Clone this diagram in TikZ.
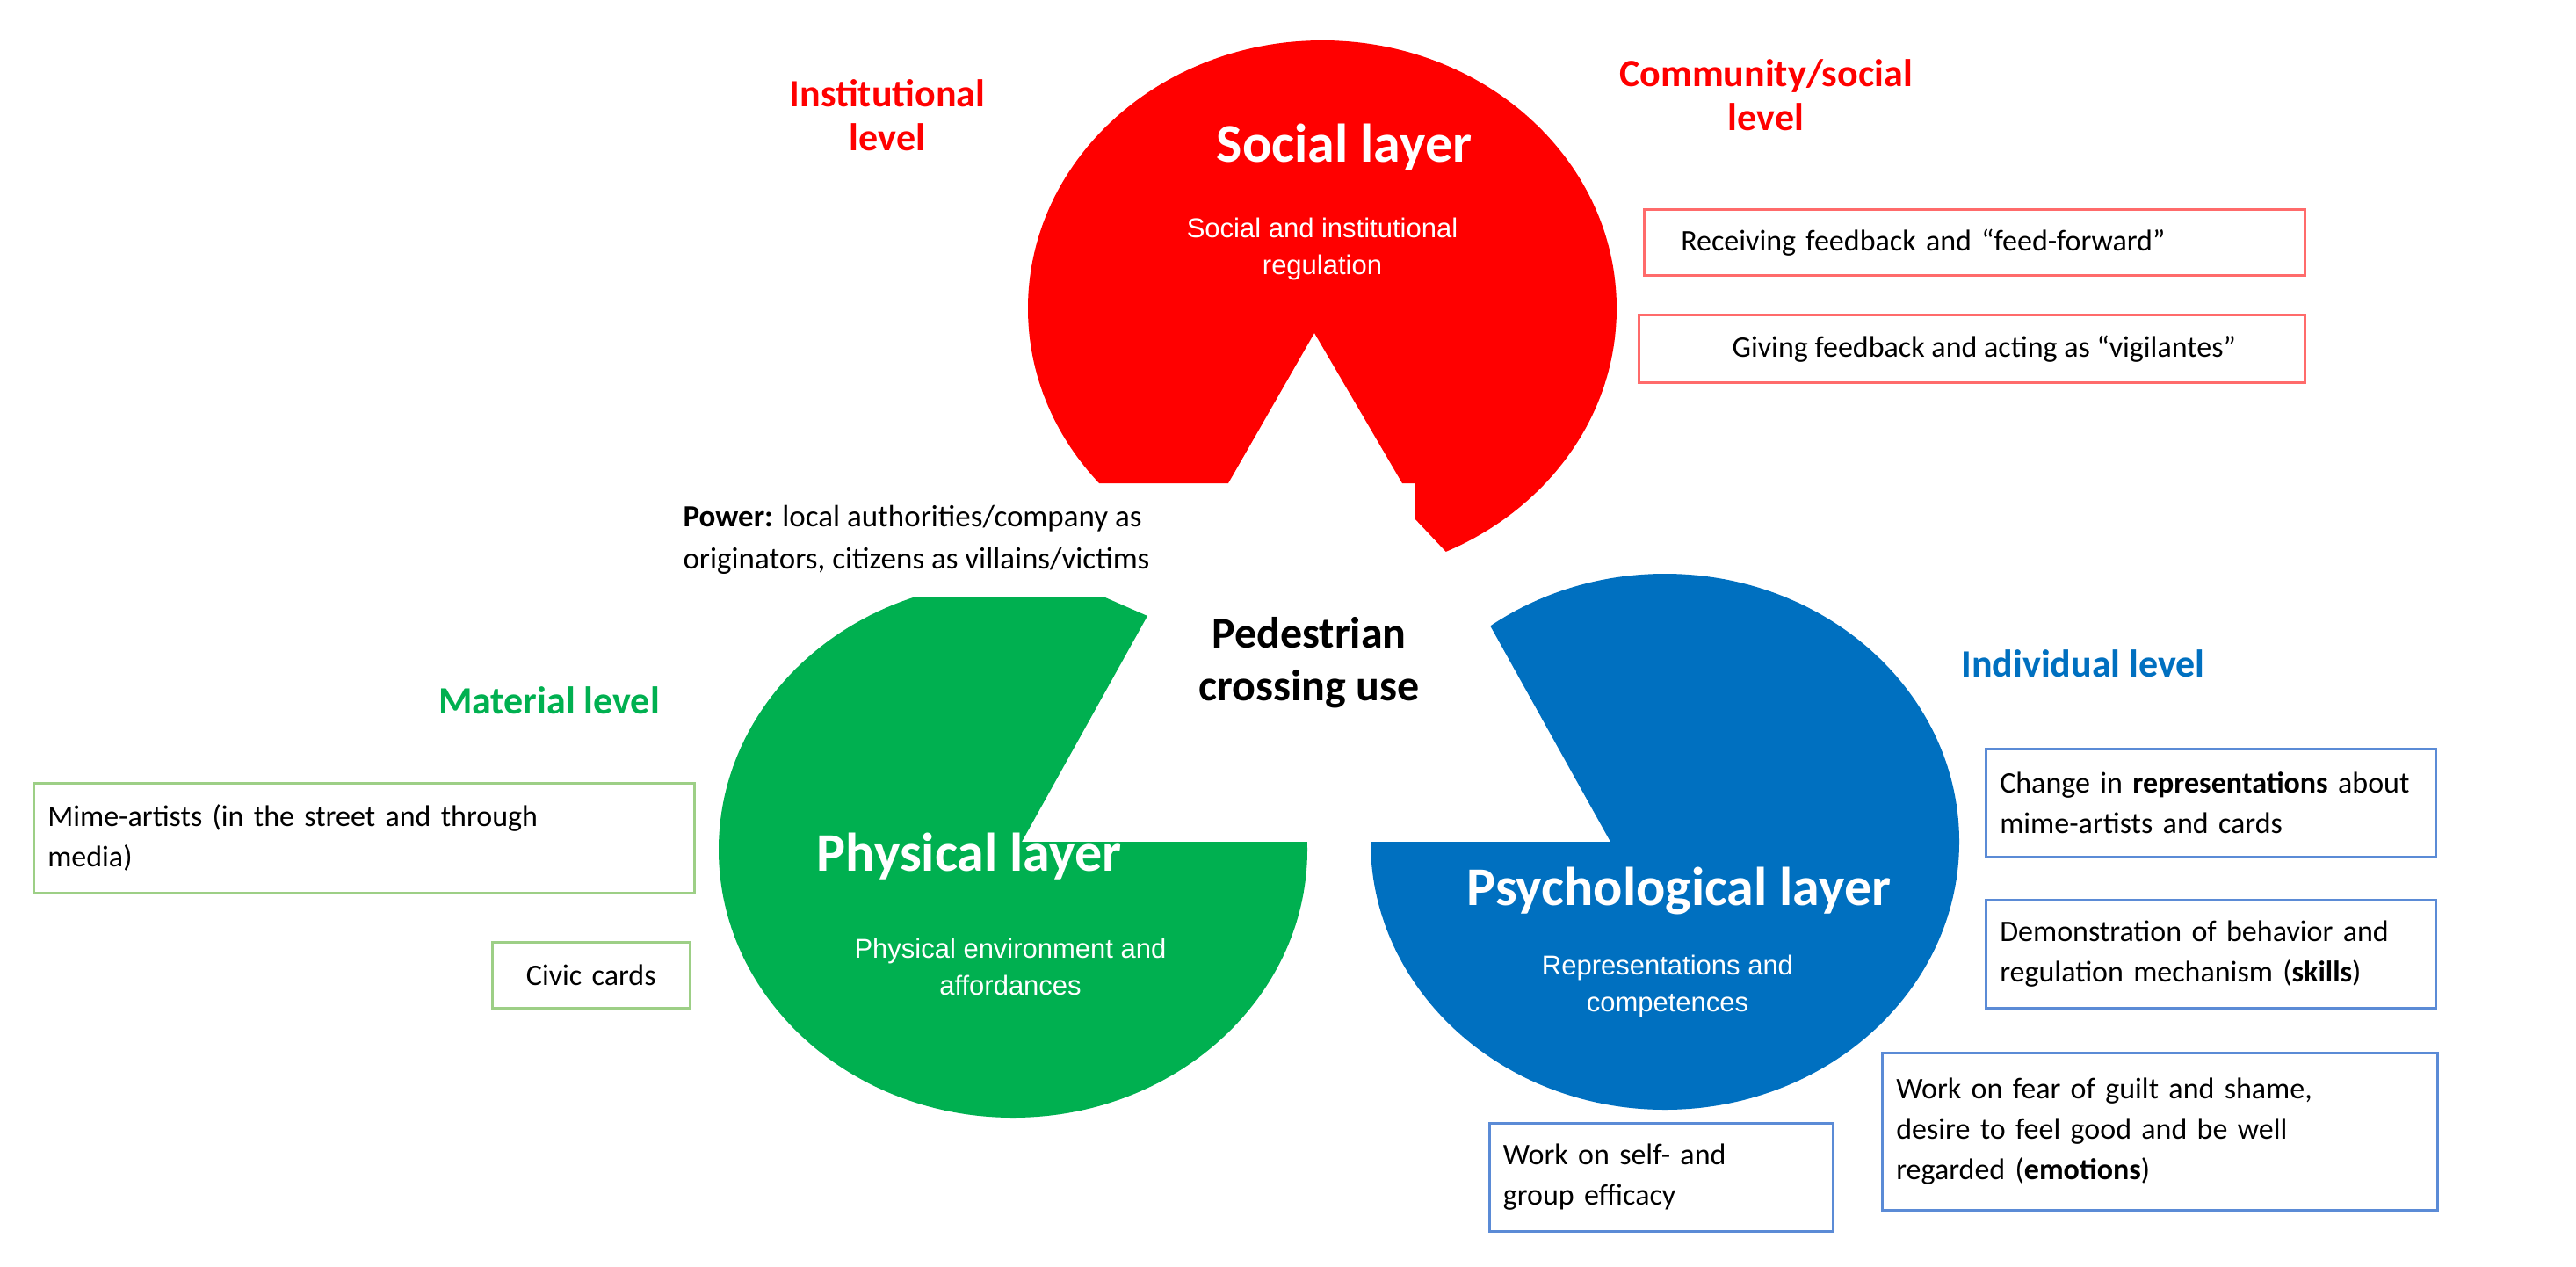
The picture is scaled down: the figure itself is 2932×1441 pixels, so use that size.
\documentclass[tikz,border=0pt]{standalone}
\usepackage{fontspec}
\setmainfont{Carlito}
\newfontfamily\arialf{Liberation Sans}
\begin{document}
\begin{tikzpicture}[x=1pt,y=-1pt,
  lvl/.style={font=\fontsize{44}{50}\selectfont\bfseries, align=center},
  title/.style={font=\fontsize{62}{70}\selectfont\bfseries, text=white, align=center},
  sub/.style={font=\arialf\fontsize{31}{42}\selectfont, text=white, align=center},
  bx/.style={draw, line width=2.5pt, anchor=north west, align=left, inner sep=0pt,
     font=\fontsize{34}{46}\selectfont, text=black},
]
\definecolor{cred}{HTML}{FF0000}
\definecolor{cgreen}{HTML}{00B050}
\definecolor{cblue}{HTML}{0070C0}
\definecolor{bred}{HTML}{FF6B6B}
\definecolor{bgreen}{HTML}{9DCF86}
\definecolor{bblue}{HTML}{5B8BD6}
\fill[white] (0,0) rectangle (2932,1441);
\useasboundingbox (0,0) rectangle (2932,1441);

% red shape
\begin{scope}
\clip (1000,0) -- (2000,0) -- (2000,900) -- (1902,900) -- (1610,590) -- (1610,550) -- (1596,550) -- (1496,379) -- (1398,550) -- (1000,550) -- cycle;
\fill[cred] (1505,351) ellipse [x radius=335, y radius=305];
\end{scope}
% green shape
\begin{scope}
\clip (700,680) -- (1258,680) -- (1306,701) -- (1163,958) -- (1600,958) -- (1600,1400) -- (700,1400) -- cycle;
\fill[cgreen] (1153,967) ellipse [x radius=335, y radius=305];
\end{scope}
% blue shape
\begin{scope}
\clip (1578,500) -- (2400,500) -- (2400,1400) -- (1500,1400) -- (1500,958) -- (1833,958) -- cycle;
\fill[cblue] (1895,958) ellipse [x radius=335, y radius=305];
\end{scope}

\node[lvl, text=cred] (inst) at (1010,131) {Institutional\\level};
\node[lvl, text=cred] (comm) at (2010,108) {Community/social\\level};
\node[lvl, text=cgreen] (mat) at (625,797) {Material level};
\node[lvl, text=cblue] (ind) at (2371,755) {Individual level};

\node[title] (soc) at (1530,168) {Social layer};
\node[sub] (socs) at (1505,283) {Social and institutional\\regulation};
\node[title] (phy) at (1103,975) {Physical layer};
\node[sub] (phys) at (1150,1100) {Physical environment and\\affordances};
\node[title] (psy) at (1911,1014) {Psychological layer};
\node[sub] (psys) at (1898,1122) {Representations and\\competences};

\node[font=\fontsize{50}{60}\selectfont\bfseries, align=center] (ped) at (1490,754) {Pedestrian\\crossing use};
\node[font=\fontsize{35}{48}\selectfont, align=left, anchor=north west] (pow) at (774,572) {\textbf{Power:} local authorities/company as\\originators, citizens as villains/victims};

\node[bx, draw=bred, minimum width=752, minimum height=75, text width=724, xshift=0pt] (r1) at (1870,237) {\hspace*{28pt}Receiving feedback and “feed-forward”};
\node[bx, draw=bred, minimum width=758, minimum height=77] (r2) at (1864,357) {\hspace*{28pt}Giving feedback and acting as “vigilantes”};

\node[bx, draw=bgreen, minimum width=752, minimum height=125, text width=720] (g1) at (37,890) {\hspace*{0pt}Mime-artists (in the street and through\\media)};
\node[bx, draw=bgreen, minimum width=225, minimum height=75, align=center, text width=225] (g2) at (559,1071) {Civic cards};

\node[bx, draw=bblue, minimum width=512, minimum height=123, text width=480] (b1) at (2259,851) {Change in \textbf{representations} about\\mime-artists and cards};
\node[bx, draw=bblue, minimum width=512, minimum height=123, text width=480] (b2) at (2259,1023) {Demonstration of behavior and\\regulation mechanism (\textbf{skills})};
\node[bx, draw=bblue, minimum width=632, minimum height=179, text width=600] (b3) at (2141,1197) {Work on fear of guilt and shame,\\desire to feel good and be well\\regarded (\textbf{emotions})};
\node[bx, draw=bblue, minimum width=391, minimum height=123, text width=360] (b4) at (1694,1277) {Work on self- and\\group efficacy};
\end{tikzpicture}
\end{document}
